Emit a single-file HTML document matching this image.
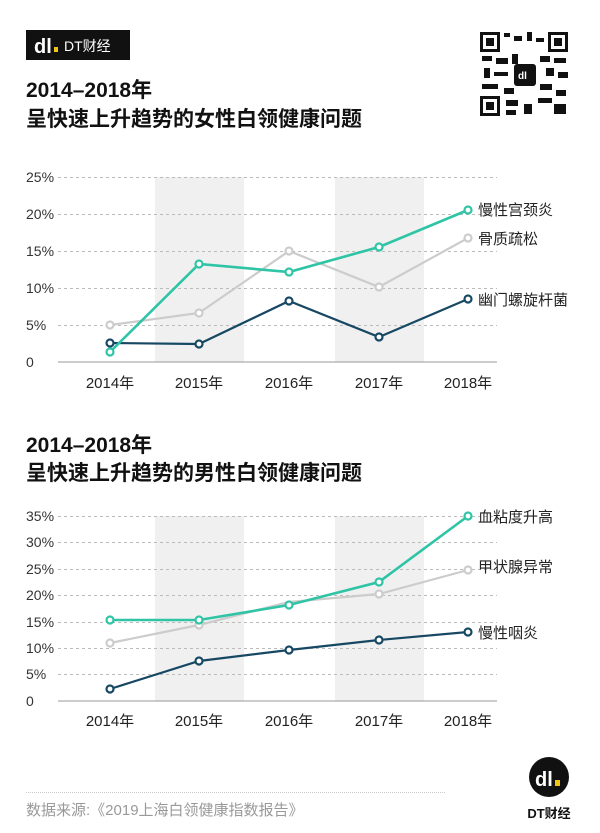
<!DOCTYPE html>
<html><head><meta charset="utf-8"><style>
body{margin:0;background:#fff}
svg{display:block;font-family:"Liberation Sans","Noto Sans CJK SC",sans-serif}
</style></head><body>
<svg width="600" height="833" viewBox="0 0 600 833" xmlns="http://www.w3.org/2000/svg">
<rect width="600" height="833" fill="#fff"/>
<!-- header logo -->
<rect x="26" y="30" width="104" height="30" fill="#111"/>
<text x="34" y="53" font-size="20" font-weight="bold" fill="#fff">dl</text>
<rect x="54" y="47" width="4" height="5" fill="#f0c419"/>
<text x="64" y="51" font-size="14" fill="#fff">DT财经</text>
<text x="26" y="97" font-size="21" font-weight="bold" fill="#111">2014–2018年</text>
<text x="26" y="126" font-size="21" font-weight="bold" fill="#111">呈快速上升趋势的女性白领健康问题</text>
<!-- QR -->
<g fill="#111">
<rect x="478" y="30" width="92" height="88" fill="#fff"/>
<rect x="480" y="32" width="20" height="20"/><rect x="483" y="35" width="14" height="14" fill="#fff"/><rect x="486" y="38" width="8" height="8"/>
<rect x="548" y="32" width="20" height="20"/><rect x="551" y="35" width="14" height="14" fill="#fff"/><rect x="554" y="38" width="8" height="8"/>
<rect x="480" y="96" width="20" height="20"/><rect x="483" y="99" width="14" height="14" fill="#fff"/><rect x="486" y="102" width="8" height="8"/>
<rect x="504" y="33" width="6" height="4"/><rect x="514" y="36" width="8" height="5"/><rect x="527" y="32" width="5" height="9"/><rect x="536" y="38" width="8" height="4"/>
<rect x="482" y="56" width="10" height="5"/><rect x="496" y="58" width="12" height="6"/><rect x="512" y="54" width="6" height="10"/><rect x="540" y="56" width="10" height="6"/><rect x="554" y="58" width="12" height="5"/>
<rect x="484" y="68" width="6" height="10"/><rect x="494" y="72" width="14" height="4"/><rect x="546" y="68" width="8" height="8"/><rect x="558" y="72" width="10" height="6"/>
<rect x="482" y="84" width="16" height="5"/><rect x="504" y="88" width="10" height="6"/><rect x="540" y="84" width="12" height="6"/><rect x="556" y="90" width="10" height="6"/>
<rect x="506" y="100" width="12" height="6"/><rect x="524" y="104" width="8" height="10"/><rect x="538" y="98" width="14" height="5"/><rect x="554" y="104" width="12" height="10"/><rect x="506" y="110" width="10" height="5"/>
<rect x="514" y="64" width="22" height="22" rx="3"/>
</g>
<text x="518" y="79" font-size="10" font-weight="bold" fill="#fff">dl</text>

<!-- chart 1 -->
<rect x="155" y="177" width="89" height="185" fill="#f0f0f0"/>
<rect x="335" y="177" width="89" height="185" fill="#f0f0f0"/>
<g stroke="#bbb" stroke-dasharray="3,3" stroke-width="1">
<line x1="58" y1="177.5" x2="497" y2="177.5"/><line x1="58" y1="214.5" x2="497" y2="214.5"/><line x1="58" y1="251.5" x2="497" y2="251.5"/><line x1="58" y1="288.5" x2="497" y2="288.5"/><line x1="58" y1="325.5" x2="497" y2="325.5"/>
</g>
<line x1="58" y1="362" x2="497" y2="362" stroke="#999" stroke-width="1"/>
<g font-size="14" fill="#333" text-anchor="start">
<text x="26" y="182">25%</text><text x="26" y="219">20%</text><text x="26" y="256">15%</text><text x="26" y="293">10%</text><text x="26" y="330">5%</text><text x="26" y="367">0</text>
</g>
<g font-size="15" fill="#222" text-anchor="middle">
<text x="110" y="388">2014年</text><text x="199" y="388">2015年</text><text x="289" y="388">2016年</text><text x="379" y="388">2017年</text><text x="468" y="388">2018年</text>
</g>
<g fill="#fff" stroke-width="2.2">
<polyline points="110,325 199,313 289,251 379,287 468,238" fill="none" stroke="#ccc"/>
<polyline points="110,343 199,344 289,301 379,337 468,299" fill="none" stroke="#174863"/>
<polyline points="110,352 199,264 289,272 379,247 468,210" fill="none" stroke="#2ec4a5" stroke-width="2.6"/>
<g stroke="#ccc"><circle cx="110" cy="325" r="3.5"/><circle cx="199" cy="313" r="3.5"/><circle cx="289" cy="251" r="3.5"/><circle cx="379" cy="287" r="3.5"/><circle cx="468" cy="238" r="3.5"/></g>
<g stroke="#174863"><circle cx="110" cy="343" r="3.5"/><circle cx="199" cy="344" r="3.5"/><circle cx="289" cy="301" r="3.5"/><circle cx="379" cy="337" r="3.5"/><circle cx="468" cy="299" r="3.5"/></g>
<g stroke="#2ec4a5"><circle cx="110" cy="352" r="3.5"/><circle cx="199" cy="264" r="3.5"/><circle cx="289" cy="272" r="3.5"/><circle cx="379" cy="247" r="3.5"/><circle cx="468" cy="210" r="3.5"/></g>
</g>
<g font-size="15" fill="#222">
<text x="478" y="215">慢性宫颈炎</text><text x="478" y="244">骨质疏松</text><text x="478" y="305">幽门螺旋杆菌</text>
</g>

<!-- chart 2 -->
<text x="26" y="452" font-size="21" font-weight="bold" fill="#111">2014–2018年</text>
<text x="26" y="480" font-size="21" font-weight="bold" fill="#111">呈快速上升趋势的男性白领健康问题</text>
<rect x="155" y="516" width="89" height="185" fill="#f0f0f0"/>
<rect x="335" y="516" width="89" height="185" fill="#f0f0f0"/>
<g stroke="#bbb" stroke-dasharray="3,3" stroke-width="1">
<line x1="58" y1="516.5" x2="497" y2="516.5"/><line x1="58" y1="542.5" x2="497" y2="542.5"/><line x1="58" y1="569.5" x2="497" y2="569.5"/><line x1="58" y1="595.5" x2="497" y2="595.5"/><line x1="58" y1="622.5" x2="497" y2="622.5"/><line x1="58" y1="648.5" x2="497" y2="648.5"/><line x1="58" y1="674.5" x2="497" y2="674.5"/>
</g>
<line x1="58" y1="701" x2="497" y2="701" stroke="#999" stroke-width="1"/>
<g font-size="14" fill="#333">
<text x="26" y="521">35%</text><text x="26" y="547">30%</text><text x="26" y="574">25%</text><text x="26" y="600">20%</text><text x="26" y="627">15%</text><text x="26" y="653">10%</text><text x="26" y="679">5%</text><text x="26" y="706">0</text>
</g>
<g font-size="15" fill="#222" text-anchor="middle">
<text x="110" y="726">2014年</text><text x="199" y="726">2015年</text><text x="289" y="726">2016年</text><text x="379" y="726">2017年</text><text x="468" y="726">2018年</text>
</g>
<g fill="#fff" stroke-width="2.2">
<polyline points="110,643 199,625 289,602 379,594 468,570" fill="none" stroke="#ccc"/>
<polyline points="110,689 199,661 289,650 379,640 468,632" fill="none" stroke="#174863"/>
<polyline points="110,620 199,620 289,605 379,582 468,516" fill="none" stroke="#2ec4a5" stroke-width="2.6"/>
<g stroke="#ccc"><circle cx="110" cy="643" r="3.5"/><circle cx="199" cy="625" r="3.5"/><circle cx="379" cy="594" r="3.5"/><circle cx="468" cy="570" r="3.5"/></g>
<g stroke="#174863"><circle cx="110" cy="689" r="3.5"/><circle cx="199" cy="661" r="3.5"/><circle cx="289" cy="650" r="3.5"/><circle cx="379" cy="640" r="3.5"/><circle cx="468" cy="632" r="3.5"/></g>
<g stroke="#2ec4a5"><circle cx="110" cy="620" r="3.5"/><circle cx="199" cy="620" r="3.5"/><circle cx="289" cy="605" r="3.5"/><circle cx="379" cy="582" r="3.5"/><circle cx="468" cy="516" r="3.5"/></g>
</g>
<g font-size="15" fill="#222">
<text x="478" y="522">血粘度升高</text><text x="478" y="572">甲状腺异常</text><text x="478" y="638">慢性咽炎</text>
</g>

<!-- footer -->
<line x1="26" y1="792.5" x2="446" y2="792.5" stroke="#ccc" stroke-dasharray="1,1"/>
<text x="26" y="815" font-size="15" fill="#999">数据来源:《2019上海白领健康指数报告》</text>
<circle cx="549" cy="777" r="20" fill="#111"/>
<text x="535" y="786" font-size="20" font-weight="bold" fill="#fff">dl</text>
<rect x="555" y="780" width="5" height="6" fill="#f0c419"/>
<text x="549" y="818" font-size="13" font-weight="bold" fill="#111" text-anchor="middle">DT财经</text>
</svg>
</body></html>
